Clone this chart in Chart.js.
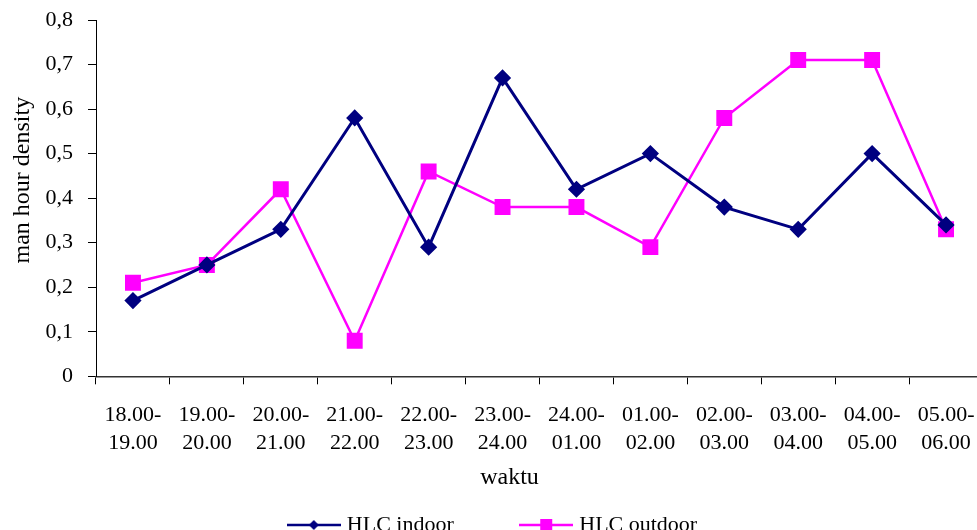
<!DOCTYPE html>
<html>
<head>
<meta charset="utf-8">
<script src="https://cdn.jsdelivr.net/npm/chart.js@4.4.1/dist/chart.umd.min.js"></script>
<style>
  html, body { margin: 0; padding: 0; background: #fff; overflow: hidden; }
  #wrap { position: absolute; left: 0; top: 0; width: 1000px; height: 560px; }
</style>
</head>
<body>
<div id="wrap"><canvas id="chart" width="1000" height="560"></canvas></div>
<script>
const timeSlots = [
  ["18.00-", "19.00"], ["19.00-", "20.00"], ["20.00-", "21.00"], ["21.00-", "22.00"],
  ["22.00-", "23.00"], ["23.00-", "24.00"], ["24.00-", "01.00"], ["01.00-", "02.00"],
  ["02.00-", "03.00"], ["03.00-", "04.00"], ["04.00-", "05.00"], ["05.00-", "06.00"]
];
const hlcIndoor  = [0.17, 0.25, 0.33, 0.58, 0.29, 0.67, 0.42, 0.50, 0.38, 0.33, 0.50, 0.34];
const hlcOutdoor = [0.21, 0.25, 0.42, 0.08, 0.46, 0.38, 0.38, 0.29, 0.58, 0.71, 0.71, 0.33];

const NAVY = "#000080";
const MAGENTA = "#ff00ff";
const SERIF = "'Liberation Serif', 'Times New Roman', serif";
const NBSP = "\u00a0";

// legend icon: short line with the marker in the middle
function legendIcon(color, shape) {
  const c = document.createElement("canvas");
  c.width = 54; c.height = 16;
  const g = c.getContext("2d");
  g.strokeStyle = color;
  g.lineWidth = 2.5;
  g.beginPath(); g.moveTo(0, 8); g.lineTo(54, 8); g.stroke();
  g.fillStyle = color;
  if (shape === "diamond") {
    g.beginPath(); g.moveTo(27, 3); g.lineTo(32, 8); g.lineTo(27, 13); g.lineTo(22, 8); g.closePath(); g.fill();
  } else {
    g.fillRect(21, 2, 12, 12);
  }
  return c;
}
const legendIcons = [legendIcon(NAVY, "diamond"), legendIcon(MAGENTA, "square")];
// extra room after the first legend entry
const legendGap = [NBSP.repeat(11), ""];

Chart.defaults.color = "#000";
Chart.defaults.font.family = SERIF;

new Chart(document.getElementById("chart"), {
  type: "line",
  data: {
    labels: timeSlots,
    datasets: [
      {
        label: "HLC indoor",
        data: hlcIndoor,
        borderColor: NAVY,
        backgroundColor: NAVY,
        borderWidth: 3,
        pointStyle: "rectRot",
        pointRadius: 6.5,
        pointHoverRadius: 6.5,
        tension: 0
      },
      {
        label: "HLC outdoor",
        data: hlcOutdoor,
        borderColor: MAGENTA,
        backgroundColor: MAGENTA,
        borderWidth: 2.5,
        pointStyle: "rect",
        pointRadius: 9.5,
        pointHoverRadius: 9.5,
        tension: 0
      }
    ]
  },
  options: {
    responsive: false,
    animation: false,
    layout: { padding: { left: 6, right: 17, top: 20, bottom: 14 } },
    plugins: {
      tooltip: { enabled: false },
      legend: {
        position: "bottom",
        labels: {
          usePointStyle: true,
          pointStyleWidth: 44,
          boxHeight: 16,
          padding: 10,
          font: { size: 22, family: SERIF },
          generateLabels: chart =>
            Chart.defaults.plugins.legend.labels.generateLabels(chart)
              .map((l, i) => ({ ...l, text: l.text + legendGap[i], pointStyle: legendIcons[i] }))
        }
      }
    },
    scales: {
      x: {
        offset: true,
        grid: { offset: true, drawOnChartArea: false, drawTicks: true, tickLength: 8, color: "#000" },
        border: { color: "#333", width: 1.5 },
        ticks: { padding: 17, maxRotation: 0, autoSkip: false, font: { size: 22, family: SERIF, lineHeight: 1.27 } },
        title: {
          display: true,
          text: "waktu" + NBSP.repeat(10),
          font: { size: 24, family: SERIF },
          padding: { top: -11, bottom: 12 }
        }
      },
      y: {
        min: 0,
        max: 0.8,
        afterFit: scale => {
          scale.width = 90;
          scale.paddingTop = 0;
          scale.paddingBottom = 0;
        },
        grid: { drawOnChartArea: false, drawTicks: true, tickLength: 8, color: "#000" },
        border: { color: "#000", width: 1 },
        ticks: {
          stepSize: 0.1,
          padding: 15,
          font: { size: 22, family: SERIF },
          callback: v => v === 0 ? "0" : v.toFixed(1).replace(".", ",")
        },
        title: {
          display: true,
          text: NBSP.repeat(6) + "man hour density",
          font: { size: 24, family: SERIF },
          padding: { top: 2, bottom: 10 }
        }
      }
    }
  }
});
</script>
</body>
</html>
